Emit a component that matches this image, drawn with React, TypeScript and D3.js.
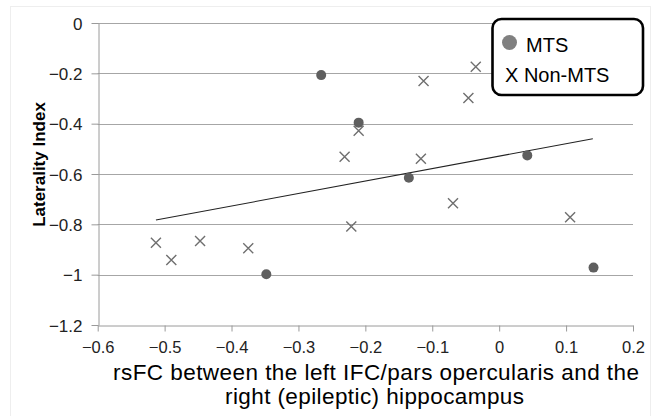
import * as d3 from 'd3';
import React, { useRef, useEffect } from 'react';

// MTS patients (filled circles)
const mtsX = [-0.266, -0.21, -0.135, 0.042, -0.348, 0.141];
const mtsY = [-0.207, -0.396, -0.615, -0.526, -0.998, -0.972];

// non-MTS patients (crosses)
const nonX = [-0.035, -0.113, -0.046, -0.21, -0.231, -0.117, -0.069, -0.221, 0.106, -0.513, -0.49, -0.447, -0.375];
const nonY = [-0.174, -0.23, -0.298, -0.428, -0.531, -0.539, -0.716, -0.809, -0.772, -0.873, -0.942, -0.866, -0.895];

// trend line end points
const trendX = [-0.513, 0.14];
const trendY = [-0.783, -0.46];

const xTicks = [-0.6, -0.5, -0.4, -0.3, -0.2, -0.1, 0, 0.1, 0.2];
const yTicks = [0, -0.2, -0.4, -0.6, -0.8, -1, -1.2];

const App = () => {
    const svgRef = useRef<SVGSVGElement>(null);

    useEffect(() => {
        const width = 656;
        const height = 416;
        const font = 'Liberation Sans, Arial, sans-serif';

        const svg = d3.select(svgRef.current);
        svg.selectAll('*').remove();

        const x = d3.scaleLinear().domain([-0.6, 0.2]).range([97.7, 633]);
        const y = d3.scaleLinear().domain([-1.2, 0]).range([325, 23]);

        // faint outer frame
        svg.append('rect')
            .attr('x', 10.5).attr('y', 6.5)
            .attr('width', 640).attr('height', 420)
            .attr('fill', 'white')
            .attr('stroke', '#eeeeee');

        // horizontal gridlines
        svg.append('g')
            .selectAll('line')
            .data(yTicks.filter((t) => t !== -1.2))
            .enter().append('line')
            .attr('x1', x(-0.6)).attr('x2', x(0.2))
            .attr('y1', (d) => Math.round(y(d)) + 0.5)
            .attr('y2', (d) => Math.round(y(d)) + 0.5)
            .attr('stroke', '#a6a6a6');

        // axes
        const axisColor = '#9a9a9a';
        const gx = svg.append('g')
            .attr('transform', `translate(0, ${Math.round(y(-1.2)) + 0.5})`)
            .call(d3.axisBottom(x).tickValues(xTicks).tickSize(6).tickSizeOuter(0)
                .tickFormat((d) => d3.format('')(+(+d).toFixed(1))));
        gx.select('.domain').attr('stroke', axisColor);
        gx.selectAll('.tick line').attr('stroke', axisColor);
        gx.selectAll('.tick text')
            .attr('fill', '#222')
            .attr('font-family', font)
            .attr('font-size', 16.5)
            .attr('dy', 0)
            .attr('y', 27);

        const gy = svg.append('g')
            .attr('transform', `translate(${Math.round(x(-0.6)) + 0.5}, 0)`)
            .call(d3.axisLeft(y).tickValues(yTicks).tickSize(7).tickSizeOuter(0)
                .tickFormat((d) => d3.format('')(+(+d).toFixed(1))));
        gy.select('.domain').attr('stroke', axisColor);
        gy.selectAll('.tick line').attr('stroke', axisColor);
        gy.selectAll('.tick text')
            .attr('fill', '#222')
            .attr('font-family', font)
            .attr('font-size', 17)
            .attr('x', -16)
            .attr('dy', '0.36em');
        gy.attr('font-family', null).attr('font-size', null);
        gx.attr('font-family', null).attr('font-size', null);

        // trend line
        svg.append('line')
            .attr('x1', x(trendX[0])).attr('y1', y(trendY[0]))
            .attr('x2', x(trendX[1])).attr('y2', y(trendY[1]))
            .attr('stroke', '#222')
            .attr('stroke-width', 1.1);

        // non-MTS crosses
        const s = 5;
        const nonData = nonX.map((v, i) => [v, nonY[i]]);
        svg.append('g')
            .selectAll('path')
            .data(nonData)
            .enter().append('path')
            .attr('d', (d) => {
                const cx = x(d[0]);
                const cy = y(d[1]);
                return `M${cx - s},${cy - s}L${cx + s},${cy + s}M${cx - s},${cy + s}L${cx + s},${cy - s}`;
            })
            .attr('stroke', '#6f6f6f')
            .attr('stroke-width', 1.4)
            .attr('fill', 'none');

        // MTS circles
        const mtsData = mtsX.map((v, i) => [v, mtsY[i]]);
        svg.append('g')
            .selectAll('circle')
            .data(mtsData)
            .enter().append('circle')
            .attr('cx', (d) => x(d[0]))
            .attr('cy', (d) => y(d[1]))
            .attr('r', 5)
            .attr('fill', '#5f5f5f');

        // legend
        const lg = svg.append('g');
        lg.append('rect')
            .attr('x', 492.5).attr('y', 19)
            .attr('width', 150.5).attr('height', 76)
            .attr('rx', 9)
            .attr('fill', 'white')
            .attr('stroke', '#000')
            .attr('stroke-width', 2.6);
        lg.append('circle')
            .attr('cx', 509.5).attr('cy', 42.5)
            .attr('r', 7.5)
            .attr('fill', '#808080');
        lg.append('text')
            .attr('x', 526).attr('y', 51.7)
            .attr('font-family', font).attr('font-size', 20)
            .attr('fill', '#000')
            .text('MTS');
        lg.append('text')
            .attr('x', 505).attr('y', 81.7)
            .attr('font-family', font).attr('font-size', 20)
            .attr('fill', '#000')
            .text('X Non-MTS');

        // axis titles
        svg.append('text')
            .attr('transform', `translate(45, 164.5) rotate(-90)`)
            .attr('text-anchor', 'middle')
            .attr('font-family', font).attr('font-size', 17)
            .attr('font-weight', 'bold')
            .attr('fill', '#000')
            .text('Laterality Index');

        svg.append('text')
            .attr('x', 376).attr('y', 380)
            .attr('text-anchor', 'middle')
            .attr('font-family', font).attr('font-size', 22.5)
            .attr('textLength', 526)
            .attr('fill', '#000')
            .text('rsFC between the left IFC/pars opercularis and the');
        svg.append('text')
            .attr('x', 374.5).attr('y', 404)
            .attr('text-anchor', 'middle')
            .attr('font-family', font).attr('font-size', 22.5)
            .attr('textLength', 299)
            .attr('fill', '#000')
            .text('right (epileptic) hippocampus');

        svg.attr('width', width).attr('height', height);
    }, []);

    return (
        <svg ref={svgRef} width={656} height={416}
            style={{ position: 'absolute', left: 0, top: 0, background: 'white' }} />
    );
};

export default App;
